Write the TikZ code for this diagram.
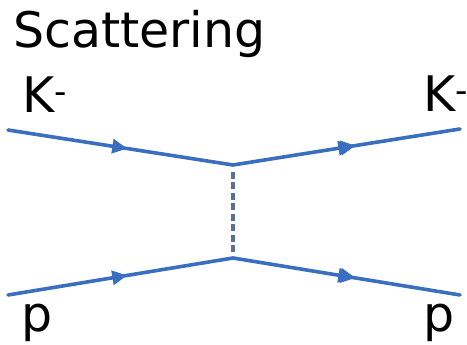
\documentclass[tikz,border=0pt]{standalone}
\usepackage{fontspec}
\setmainfont{DejaVu Sans}
\usetikzlibrary{arrows.meta,decorations.markings,positioning}

\definecolor{lineblue}{RGB}{58,110,190}
\definecolor{dashblue}{RGB}{88,112,150}

\begin{document}
\begin{tikzpicture}[
  x=1pt, y=1pt,
  every node/.style={
    font=\fontsize{49}{56}\selectfont,
    text=black,
    inner sep=0pt
  },
  fermion/.style={
    draw=lineblue,
    line width=3.6pt,
    line cap=round,
    postaction={decorate},
    decoration={
      markings,
      mark=at position 0.53 with {\arrow{Triangle[length=15pt,width=14pt]}}
    }
  },
  fermionout/.style={
    fermion,
    decoration={
      markings,
      mark=at position 0.54 with {\arrow{Triangle[length=15pt,width=14pt]}}
    }
  },
  exchange/.style={
    draw=dashblue,
    line width=3.4pt,
    dash pattern=on 7pt off 3.5pt,
    shorten <=7pt,
    shorten >=3pt
  }
]
  \useasboundingbox (0,0) rectangle (467,345);

  % vertices and free ends
  \coordinate (kin) at (8,215);
  \coordinate (ktop) at (233,180);
  \coordinate (kout) at (460,216);
  \coordinate (pin) at (8,50);
  \coordinate (pbot) at (233,87);
  \coordinate (pout) at (460,50);

  \node[anchor=base west] (title) at (13,297) {Scattering};
  \node[anchor=base west] (klabelin) at (22,232) {K\textsuperscript{-}};
  \node[anchor=base west] (klabelout) at (423,233) {K\textsuperscript{-}};
  \node[anchor=base west] (plabelin) at (21,13) {p};
  \node[anchor=base west] (plabelout) at (423,13) {p};

  \draw[fermion] (kin) -- (ktop);
  \draw[fermionout] (ktop) -- (kout);
  \draw[fermion] (pin) -- (pbot);
  \draw[fermionout] (pbot) -- (pout);
  \draw[exchange] (ktop) -- (pbot);
\end{tikzpicture}
\end{document}
